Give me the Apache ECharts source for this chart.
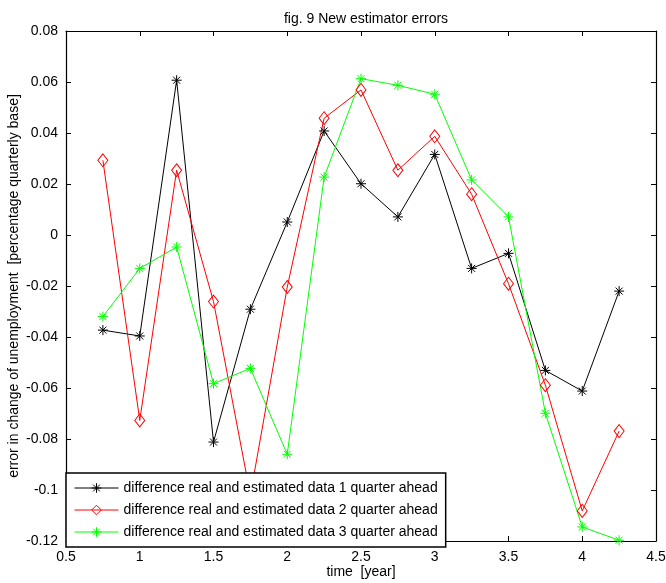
<!DOCTYPE html>
<html>
<head>
<meta charset="utf-8">
<script src="https://cdn.jsdelivr.net/npm/echarts@6/dist/echarts.min.js"></script>
<style>html,body{margin:0;padding:0;background:#fff;}#c{width:666px;height:583px;}</style>
</head>
<body>
<div id="c"></div>
<script>
const xValues = [0.75, 1.0, 1.25, 1.5, 1.75, 2.0, 2.25, 2.5, 2.75, 3.0, 3.25, 3.5, 3.75, 4.0, 4.25];
const quarter1 = [-0.0373, -0.0396, 0.0607, -0.0812, -0.0291, 0.0051, 0.0408, 0.0201, 0.0071, 0.0316, -0.0131, -0.0072, -0.0531, -0.0612, -0.0220];
const quarter2 = [0.0293, -0.0727, 0.0254, -0.0261, -0.1020, -0.0204, 0.0458, 0.0569, 0.0254, 0.0387, 0.0160, -0.0191, -0.0589, -0.1082, -0.0769];
const quarter3 = [-0.0320, -0.0131, -0.0047, -0.0583, -0.0523, -0.0860, 0.0227, 0.0613, 0.0587, 0.0552, 0.0216, 0.0071, -0.0699, -0.1145, -0.1197];
const seriesNames = [
  'difference real and estimated data 1 quarter ahead',
  'difference real and estimated data 2 quarter ahead',
  'difference real and estimated data 3 quarter ahead'
];
const titleText = 'fig. 9 New estimator errors';
const xName = 'time  [year]';
const yName = 'error in change of unemployment  [percentage quarterly base]';

const star = 'path://M0,-10 L0,10 M-10,0 L10,0 M-7,-7 L7,7 M-7,7 L7,-7';
const font = 'Liberation Sans, Arial, Helvetica, sans-serif';

function pairs(vals){ return xValues.map((x,i)=>[x, vals[i]]); }

const chart = echarts.init(document.getElementById('c'), null, {renderer:'canvas'});
const axisCommon = {
  axisLine:{show:true, onZero:false, lineStyle:{color:'#000', width:1.2}},
  axisTick:{show:true, inside:true, length:5, lineStyle:{color:'#000'}},
  splitLine:{show:false}
};
function mkSeries(name, data, color, symbol, size){
  return {
    name, type:'line', data:pairs(data), symbol, symbolSize:size,
    showSymbol:true, animation:false,
    lineStyle:{color, width:1},
    itemStyle:{color: 'rgba(0,0,0,0)', borderColor:color, borderWidth:1},
    emphasis:{disabled:true}
  };
}
chart.setOption({
  backgroundColor:'#fff',
  animation:false,
  textStyle:{fontFamily:font},
  title:{text:titleText, left:361, top:7, textAlign:'center',
    textStyle:{fontSize:14, fontWeight:'normal', color:'#000', fontFamily:font}},
  grid:{left:66, right:10, top:31, bottom:42, containLabel:false, outerBoundsMode:'none'},
  legend:{
    left:66, top:473, orient:'vertical',
    backgroundColor:'#fff', borderColor:'#000', borderWidth:1.5, borderRadius:0,
    padding:[8,8,8,8], itemGap:8, itemWidth:44, itemHeight:12,
    lineStyle:{width:1}, itemStyle:{borderWidth:1},
    textStyle:{fontSize:14, color:'#000', fontFamily:font},
    data:seriesNames
  },
  xAxis:[
    Object.assign({type:'value', min:0.5, max:4.5, interval:0.5, position:'bottom',
      name:xName, nameLocation:'middle', nameGap:24, nameMoveOverlap:false,
      nameTextStyle:{fontSize:14, color:'#000', fontFamily:font},
      axisLabel:{color:'#000', fontSize:14, margin:9, fontFamily:font}}, axisCommon),
    Object.assign({type:'value', min:0.5, max:4.5, interval:0.5, position:'top',
      axisLabel:{show:false}}, axisCommon)
  ],
  yAxis:[
    Object.assign({type:'value', min:-0.12, max:0.08, interval:0.02, position:'left',
      name:yName, nameLocation:'middle', nameGap:45, nameRotate:90, nameMoveOverlap:false,
      nameTextStyle:{fontSize:14, color:'#000', fontFamily:font},
      axisLabel:{color:'#000', fontSize:14, margin:8, fontFamily:font,
        formatter:v=>{ const r=Math.round(v*100)/100; return r===0?'0':String(r);} }}, axisCommon),
    Object.assign({type:'value', min:-0.12, max:0.08, interval:0.02, position:'right',
      axisLabel:{show:false}}, axisCommon)
  ],
  series:[
    mkSeries(seriesNames[0], quarter1, '#000000', star, 10),
    mkSeries(seriesNames[1], quarter2, '#ff0000', 'diamond', [10,13]),
    mkSeries(seriesNames[2], quarter3, '#00ff00', star, 10)
  ]
});
</script>
</body>
</html>
